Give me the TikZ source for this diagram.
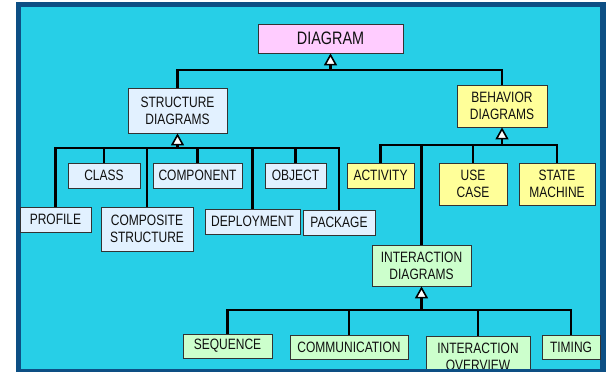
\documentclass[tikz,border=0pt]{standalone}
\usepackage{fontspec}
\setmainfont{Liberation Sans}[FakeStretch=0.8]
\usetikzlibrary{arrows.meta,shadows}
\definecolor{bgcyan}{HTML}{27CFE7}
\definecolor{framebl}{HTML}{0D4F84}
\definecolor{pinkbox}{HTML}{FFCCFF}
\definecolor{bluebox}{HTML}{E2F1FF}
\definecolor{yelbox}{HTML}{FFFF99}
\definecolor{grnbox}{HTML}{CCFFCC}
\definecolor{inkc}{HTML}{101010}

\begin{document}
\begin{tikzpicture}[x=1pt,y=-1pt,
  box/.style={draw=black!80, line width=0.8pt, text=inkc, inner sep=0pt,
    align=center, font=\fontsize{15}{17}\selectfont,
    drop shadow={shadow xshift=1.2pt,shadow yshift=-1.2pt,fill=black!70,opacity=0.6}},
  wh/.style 2 args={minimum width=#1pt, minimum height=#2pt},
  sbox/.style={box, fill=bluebox},
  bbox/.style={box, fill=yelbox},
  ibox/.style={box, fill=grnbox},
  conn/.style={line width=2.4pt, draw=black},
  gen/.style={conn, -{Triangle[open,fill=white,length=12pt,width=13pt,line width=1.6pt]}}
]
\useasboundingbox (0,0) rectangle (611,372);
\fill[white] (0,0) rectangle (611,372);

% frame and background panel
\fill[framebl] (16,2) rectangle (606,380);
\fill[bgcyan] (21,7) rectangle (600,369);

% root
\node[box, fill=pinkbox, wh={145}{29}, font=\fontsize{18}{20}\selectfont] (diag) at (330.5,38.5) {DIAGRAM};

% second level
\node[sbox, wh={99}{45}] (struct) at (177.5,110.5) {STRUCTURE\\DIAGRAMS};
\node[bbox, wh={90}{42}] (behav) at (502,106) {BEHAVIOR\\DIAGRAMS};

% structure diagrams
\node[sbox, wh={72}{25}] (class) at (104,175.5) {CLASS};
\node[sbox, wh={89}{25}] (component) at (197.5,175.5) {COMPONENT};
\node[sbox, wh={61}{25}] (object) at (295.5,175.5) {OBJECT};
\node[sbox, wh={71}{25}] (profile) at (55.5,219.5) {PROFILE};
\node[sbox, wh={92}{44}] (composite) at (147,229) {COMPOSITE\\STRUCTURE};
\node[sbox, wh={95}{25}] (deploy) at (252.5,221.5) {DEPLOYMENT};
\node[sbox, wh={72}{25}] (package) at (339,222.5) {PACKAGE};

% behavior diagrams
\node[bbox, wh={67}{25}] (activity) at (380.5,175.5) {ACTIVITY};
\node[bbox, wh={68}{42}] (usecase) at (473,184) {USE\\CASE};
\node[bbox, wh={76}{42}] (state) at (557,184) {STATE\\MACHINE};
\node[ibox, wh={99}{41}] (inter) at (421.5,265.5) {INTERACTION\\DIAGRAMS};

% interaction diagrams
\node[ibox, wh={89}{24}] (sequence) at (227.5,346) {SEQUENCE};
\node[ibox, wh={118}{24}] (comm) at (349,347) {COMMUNICATION};
\node[ibox, wh={104}{42}] (overview) at (478,357) {INTERACTION\\OVERVIEW};
\node[ibox, wh={58}{24}] (timing) at (571,347) {TIMING};

% bus points
\coordinate (tbus) at (330.5,70);
\coordinate (sbus) at (177.5,148);
\coordinate (bbus) at (502,145);
\coordinate (ibus) at (421.5,310);

% top level
\draw[conn] (struct.north) |- (tbus);
\draw[conn] (behav.north) |- (tbus);
\draw[gen] (tbus) -- (diag.south);

% structure branch
\foreach \c in {profile,class,composite,component,deploy,object,package}
  \draw[conn] (\c.north) |- (sbus);
\draw[gen] (sbus) -- (struct.south);

% behavior branch
\foreach \c in {activity,inter,usecase,state}
  \draw[conn] (\c.north) |- (bbus);
\draw[gen] (bbus) -- (behav.south);

% interaction branch
\foreach \c in {sequence,comm,overview,timing}
  \draw[conn] (\c.north) |- (ibus);
\draw[gen] (ibus) -- (inter.south);

% lower frame edge lies over the bottom row
\fill[framebl] (16,369) rectangle (606,380);
\end{tikzpicture}
\end{document}
